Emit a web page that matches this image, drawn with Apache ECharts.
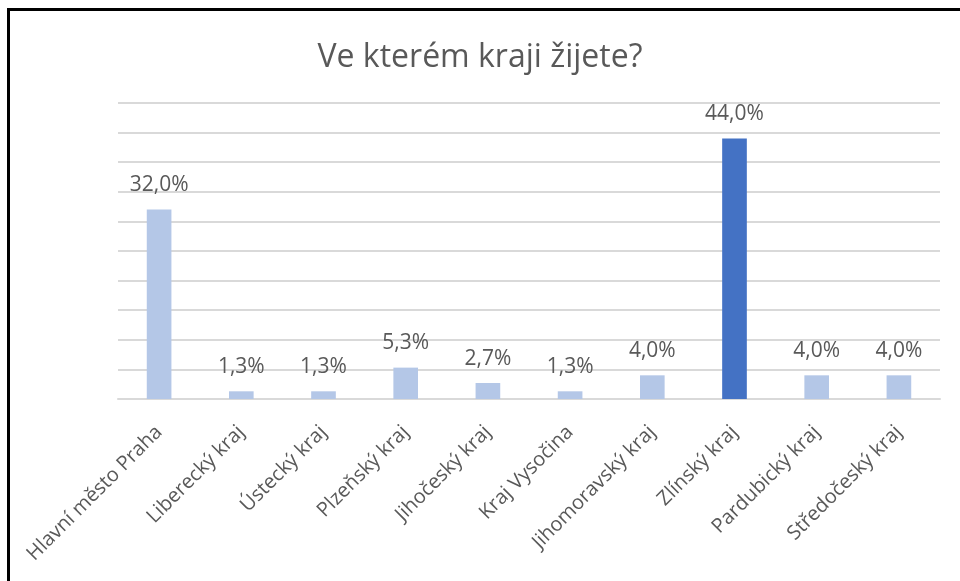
<!DOCTYPE html>
<html>
<head>
<meta charset="utf-8">
<script src="https://cdn.jsdelivr.net/npm/echarts@6/dist/echarts.min.js"></script>
<style>
html,body{margin:0;padding:0;background:#fff;}
#chart{width:960px;height:581px;}
</style>
</head>
<body>
<div id="chart"></div>
<script>
const titleText = "Ve kterém kraji žijete?";
const categories = ["Hlavní město Praha","Liberecký kraj","Ústecký kraj","Plzeňský kraj","Jihočeský kraj","Kraj Vysočina","Jihomoravský kraj","Zlínský kraj","Pardubický kraj","Středočeský kraj"];
const values = [32.0, 1.3, 1.3, 5.3, 2.7, 1.3, 4.0, 44.0, 4.0, 4.0];
const highlightIndex = 7;

const FONT = "Open Sans";
const chart = echarts.init(document.getElementById('chart'), null, {renderer:'canvas'});
chart.setOption({
  animation:false,
  backgroundColor:'#ffffff',
  title:{
    text:titleText,
    left:'center',
    top:37,
    textStyle:{fontFamily:FONT,fontSize:32,fontWeight:'normal',color:'#595959'}
  },
  graphic:[{
    type:'rect',
    shape:{x:8.5,y:9.5,width:1200,height:1200},
    style:{fill:null,stroke:'#000',lineWidth:3},
    silent:true
  }],
  grid:{left:118,right:20,top:103,bottom:182,containLabel:false},
  xAxis:{
    type:'category',
    data:categories,
    axisLine:{lineStyle:{color:'#d9d9d9',width:2}},
    axisTick:{show:false},
    axisLabel:{rotate:45,interval:0,margin:30,fontFamily:FONT,fontSize:20,color:'#595959'}
  },
  yAxis:{
    type:'value',
    min:0,max:50,interval:5,
    axisLabel:{show:false},
    axisLine:{show:false},
    axisTick:{show:false},
    splitLine:{lineStyle:{color:'#d9d9d9',width:2}}
  },
  series:[{
    type:'bar',
    barWidth:'30%',
    data:values.map((v,i)=>({value:v,itemStyle:{color:i===highlightIndex?'#4472c4':'#b4c7e7'}})),
    label:{
      show:true,position:'top',distance:14,
      fontFamily:FONT,fontSize:21,color:'#595959',
      formatter:p=>p.value.toFixed(1).replace('.',',')+'%'
    }
  }]
});
</script>
</body>
</html>
